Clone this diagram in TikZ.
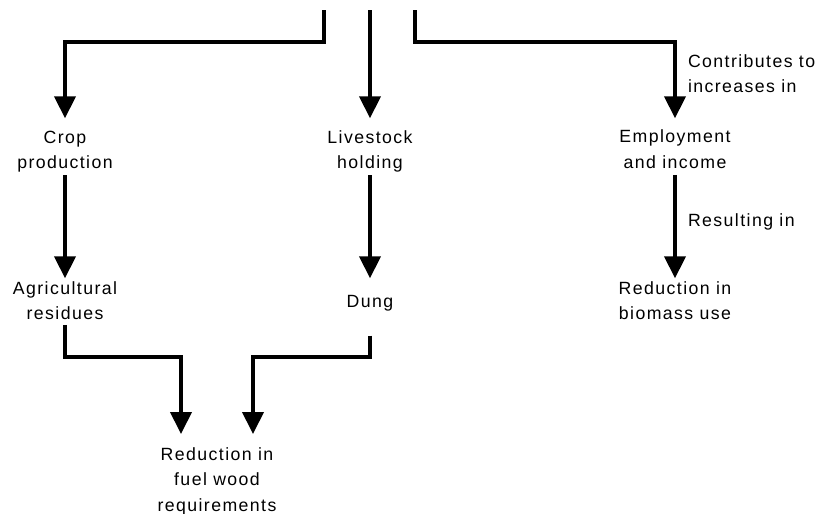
\documentclass[tikz,border=0pt]{standalone}
\usepackage{fontspec}
\usetikzlibrary{arrows.meta,calc}
\newfontfamily\lblfont[LetterSpace=8]{Liberation Sans}
\begin{document}
\begin{tikzpicture}[x=1pt,y=-1pt,
  lbl/.style={inner sep=0pt, outer sep=0pt, align=center, anchor=north,
    font=\lblfont\fontsize{17.7}{25.5}\selectfont},
  side/.style={lbl, align=left, anchor=north west},
  arr/.style={line width=4pt, line join=miter, line cap=butt,
    -{Triangle[width=21pt,length=22pt]}}]
\useasboundingbox (0,0) rectangle (822,514);
% free ends at the top
\coordinate (srcL) at (324,10);
\coordinate (srcM) at (370,10);
\coordinate (srcR) at (415,10);
% nodes
\node[lbl] (crop) at (65,125.2) {\strut Crop\\\strut production};
\node[lbl] (live) at (370,125.2) {\strut Livestock\\\strut holding};
\node[lbl] (empl) at (675,124.9) {\strut Employment\\\strut and income};
\node[lbl] (agri) at (65,276.5) {\strut Agricultural\\\strut residues};
\node[lbl] (dung) at (370,289.2) {\strut Dung};
\node[lbl] (biom) at (675,276.2) {\strut Reduction in\\\strut biomass use};
\node[lbl] (fuel) at (217,442.2) {\strut Reduction in\\\strut fuel wood\\\strut requirements};
\node[side] (contrib) at (688,49.2) {\strut Contributes to\\\strut increases in};
\node[side] (result) at (688,209) {\strut Resulting in};
% connectors
\draw[arr, shorten >=6.9pt] (srcL) -- ($(srcL)+(0,32.3)$) -| (crop.north);
\draw[arr, shorten >=6.9pt] (srcM) -- (live.north);
\draw[arr, shorten >=6.6pt] (srcR) -- ($(srcR)+(0,32.3)$) -| (empl.north);
\draw[arr, shorten <=-1pt, shorten >=-1.8pt] (crop.south) -- (agri.north);
\draw[arr, shorten <=-1pt, shorten >=10.9pt] (live.south) -- (dung.north);
\draw[arr, shorten <=-1pt, shorten >=-2.1pt] (empl.south) -- (biom.north);
\draw[arr, shorten <=-2.6pt, shorten >=8.2pt] (agri.south) |- ($(fuel.north)+(-36,-85)$) -- ($(fuel.north)+(-36,0)$);
\draw[arr, shorten <=10.4pt, shorten >=8.2pt] ($(dung.south)+(0,10.4)$) |- ($(fuel.north)+(36,-85)$) -- ($(fuel.north)+(36,0)$);
\end{tikzpicture}
\end{document}
